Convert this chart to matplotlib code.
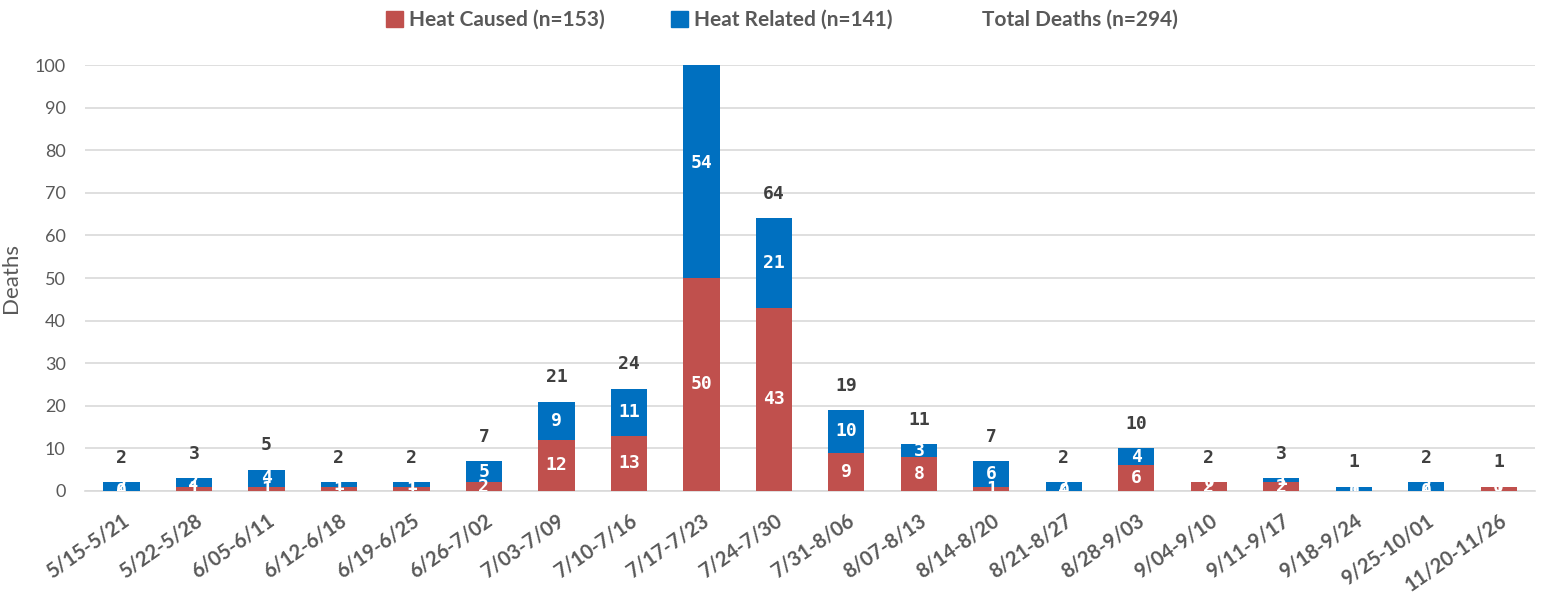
import matplotlib
matplotlib.use("Agg")
import matplotlib.pyplot as plt
from matplotlib.patches import Patch
import numpy as np

semane = ['5/15-5/21', '5/22-5/28', '6/05-6/11', '6/12-6/18', '6/19-6/25', '6/26-7/02',
          '7/03-7/09', '7/10-7/16', '7/17-7/23', '7/24-7/30', '7/31-8/06', '8/07-8/13',
          '8/14-8/20', '8/21-8/27', '8/28-9/03', '9/04-9/10', '9/11-9/17', '9/18-9/24',
          '9/25-10/01', '11/20-11/26']
heat_caused = [0, 1, 1, 1, 1, 2, 12, 13, 50, 43, 9, 8, 1, 0, 6, 2, 2, 0, 0, 1]
heat_related = [2, 2, 4, 1, 1, 5, 9, 11, 54, 21, 10, 3, 6, 2, 4, 0, 1, 1, 2, 0]
totali = [2, 3, 5, 2, 2, 7, 21, 24, 104, 64, 19, 11, 7, 2, 10, 2, 3, 1, 2, 1]

rosso = '#C0504D'
blu = '#0070C0'
grigio = '#595959'

plt.rcParams['font.family'] = ['Lato', 'DejaVu Sans']

fig = plt.figure(figsize=(15.49, 5.97), dpi=100)
ax = fig.add_axes([0.055, 0.1776, 0.936, 0.7134])

x = np.arange(len(semane))
ax.bar(x, heat_caused, 0.5, color=rosso, zorder=3)
ax.bar(x, heat_related, 0.5, bottom=heat_caused, color=blu, zorder=3)

# etichette dentro le barre (anche gli zeri, come nell'originale)
for i in range(len(x)):
    ax.text(x[i], heat_caused[i] / 2, str(heat_caused[i]), ha='center', va='center',
            color='white', fontsize=13, weight='bold', family='DejaVu Sans Mono',
            zorder=4, clip_on=True)
    ax.text(x[i], heat_caused[i] + heat_related[i] / 2, str(heat_related[i]), ha='center',
            va='center', color='white', fontsize=13, weight='bold',
            family='DejaVu Sans Mono', zorder=4, clip_on=True)
    if totali[i] <= 100:
        ax.annotate(str(totali[i]), (x[i], totali[i]), xytext=(0, 11), textcoords='offset points',
                    ha='center', va='bottom', color='#404040', fontsize=13, weight='bold',
                    family='DejaVu Sans Mono')

ax.set_ylim(0, 100)
ax.set_xlim(-0.5, len(semane) - 0.5)
ax.set_yticks(range(0, 101, 10))
ax.yaxis.grid(True, color='#D9D9D9', linewidth=1.2, zorder=0)
ax.set_axisbelow(True)
for s in ['top', 'right', 'left']:
    ax.spines[s].set_visible(False)
ax.spines['bottom'].set_color('#D9D9D9')
ax.spines['bottom'].set_linewidth(1.2)
ax.tick_params(axis='both', length=0, colors=grigio, labelsize=13)
ax.tick_params(axis='y', pad=14)
ax.tick_params(axis='x', pad=14)
ax.set_xticks(x)
ax.set_xticklabels(semane, rotation=35, ha='right', rotation_mode='anchor', fontsize=14.5,
                   weight='bold')
ax.set_ylabel('Deaths', color=grigio, fontsize=16, labelpad=10)

handles = [Patch(color=rosso), Patch(color=blu), Patch(color='none')]
labels = ['Heat Caused (n=153)', 'Heat Related (n=141)', 'Total Deaths (n=294)']
fig.legend(handles, labels, loc='upper center', bbox_to_anchor=(0.505, 1.015), ncol=3,
           frameon=False, handlelength=0.8, handleheight=0.8, handletextpad=0.3,
           columnspacing=3.2, prop={'weight': 'bold', 'size': 15}, labelcolor=grigio)

fig.savefig('out.png', dpi=100)
